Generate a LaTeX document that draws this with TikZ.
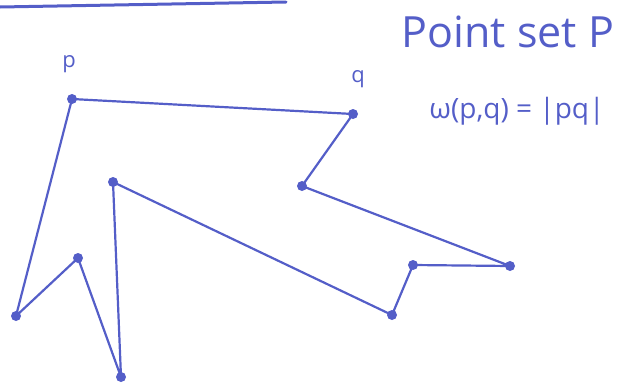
\documentclass[tikz,border=0pt]{standalone}
\usepackage{fontspec}
\setmainfont{Open Sans}
\definecolor{pen}{RGB}{84,94,200}
\begin{document}
\begin{tikzpicture}[x=1pt,y=-1pt,
  edge/.style={draw=pen,line width=2.2pt,line join=round,line cap=round},
  pt/.style={circle,fill=pen,inner sep=0pt,minimum size=10pt},
  lbl/.style={text=pen,font=\fontsize{22}{24}\selectfont}]
\useasboundingbox (0,0) rectangle (622,391);
\coordinate (l1) at (0,7);
\coordinate (l2) at (286,2);
\draw[edge,line width=3pt] (l1) -- (l2);
\node[pt] (p) at (72,99) {};
\node[pt] (q) at (353,114) {};
\node[pt] (a) at (302,186) {};
\node[pt] (b) at (510,266) {};
\node[pt] (c) at (413,265) {};
\node[pt] (d) at (392,315) {};
\node[pt] (e) at (113,182) {};
\node[pt] (f) at (121,377) {};
\node[pt] (g) at (78,258) {};
\node[pt] (h) at (16,316) {};
\draw[edge] (p.center) -- (q.center) -- (a.center) -- (b.center) -- (c.center) -- (d.center) -- (e.center) -- (f.center) -- (g.center) -- (h.center) -- cycle;
\node[lbl] (pl) at (69,64) {p};
\node[lbl] (ql) at (358,79) {q};
\node[text=pen,font=\fontsize{43}{45}\selectfont] (title) at (508,32) {Point set P};
\node[text=pen,font=\fontsize{28}{30}\selectfont] (w) at (517,111) {ω(p,q) = |pq|};
\end{tikzpicture}
\end{document}
